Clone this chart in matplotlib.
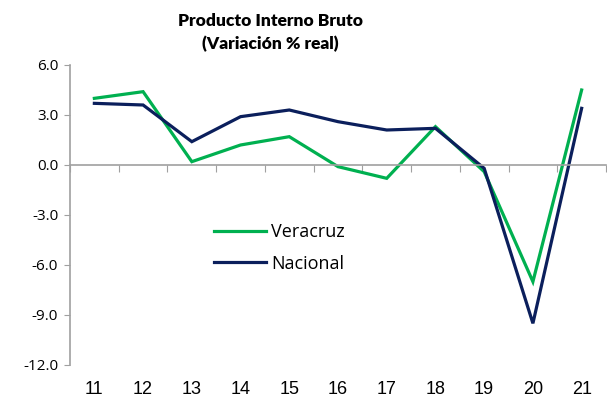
import matplotlib
matplotlib.use("Agg")
import matplotlib.pyplot as plt
from matplotlib.transforms import blended_transform_factory

years = ["11", "12", "13", "14", "15", "16", "17", "18", "19", "20", "21"]
veracruz = [4.0, 4.4, 0.2, 1.2, 1.7, -0.1, -0.8, 2.3, -0.4, -7.0, 4.5]
nacional = [3.7, 3.6, 1.4, 2.9, 3.3, 2.6, 2.1, 2.2, -0.2, -9.5, 3.4]
yticks = [-12, -9, -6, -3, 0, 3, 6]
title = "Producto Interno Bruto\n(Variación % real)"

green = "#00B050"
navy = "#0B1F5C"
axis_gray = "#A0A0A0"

fig = plt.figure(figsize=(6.07, 4.01), dpi=100)
ax = fig.add_axes([70/607, 36/401, 536/607, 300/401])

x = list(range(len(years)))
ax.plot(x, veracruz, color=green, lw=2.3, label="Veracruz", solid_joinstyle="miter")
ax.plot(x, nacional, color=navy, lw=2.3, label="Nacional", solid_joinstyle="miter")

ax.set_xlim(-0.5, len(years) - 0.5)
ax.set_ylim(-12, 6)

for s in ["top", "right"]:
    ax.spines[s].set_visible(False)
ax.spines["bottom"].set_position(("data", 0))
ax.spines["bottom"].set_color(axis_gray)
ax.spines["left"].set_color(axis_gray)
ax.spines["bottom"].set_linewidth(1.2)
ax.spines["left"].set_linewidth(1.2)

ax.set_yticks(yticks)
ax.set_yticklabels([f"{v:.1f}" for v in yticks], fontsize=11, family="Open Sans")
ax.tick_params(axis="y", direction="out", length=4.5, color=axis_gray, pad=4)

ax.set_xticks([i + 0.5 for i in range(-1, len(years))])
ax.set_xticklabels([])
ax.tick_params(axis="x", direction="out", length=5, color=axis_gray)

trans = blended_transform_factory(ax.transData, fig.transFigure)
for i, lab in enumerate(years):
    ax.text(i, 1 - 390/401, lab, transform=trans, ha="center", va="center",
            fontsize=13, family="Liberation Sans", color="#000000")

fig.text(270/607, 1 - 13/401, title, ha="center", va="top",
         fontsize=12.5, fontweight="heavy", family="Lato", linespacing=1.5)

leg = ax.legend(loc="upper left", bbox_to_anchor=((214-70)/536, (365-223)/300),
                frameon=False, fontsize=13, handlelength=2.9, handletextpad=0.28,
                labelspacing=0.75, borderaxespad=0, borderpad=0)
for t in leg.get_texts():
    t.set_family("Open Sans")

fig.savefig("out.png", dpi=100)
